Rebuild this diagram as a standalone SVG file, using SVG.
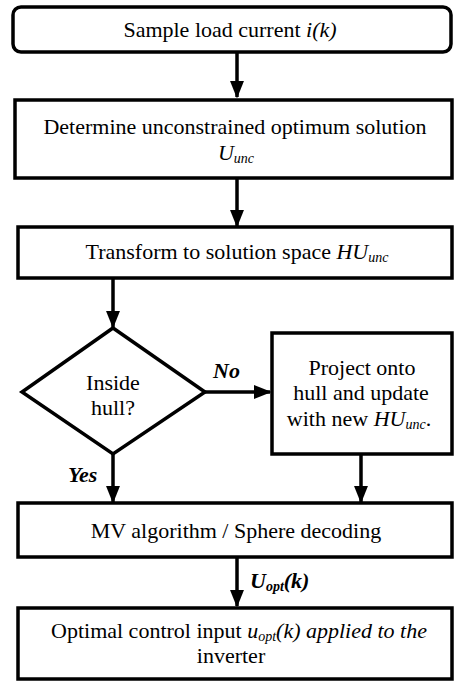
<svg xmlns="http://www.w3.org/2000/svg" width="454" height="681" viewBox="0 0 454 681">
<style>
.b{fill:#fff;stroke:#000;stroke-width:3.5}
.c{fill:none;stroke:#000;stroke-width:3.5}
text{font-size:22px;fill:#000}
.m{text-anchor:middle}
.i{font-style:italic}
.bi{font-style:italic;font-weight:bold}
.s{font-size:14px}
</style>
<defs>
<marker id="ah" markerWidth="5" markerHeight="4" refX="4.6" refY="2" orient="auto" markerUnits="strokeWidth">
<path d="M0,0 L5,2 L0,4 z" fill="#000"/>
</marker>
</defs>
<rect width="454" height="681" fill="#fff"/>
<g font-family="'Liberation Serif', 'Times New Roman', 'DejaVu Serif', serif">
<g id="connectors">
<line class="c" x1="237" y1="52" x2="237" y2="97" marker-end="url(#ah)"/>
<line class="c" x1="237" y1="178" x2="237" y2="226" marker-end="url(#ah)"/>
<line class="c" x1="113" y1="278" x2="113" y2="327" marker-end="url(#ah)"/>
<line class="c" x1="205" y1="392" x2="270" y2="392" marker-end="url(#ah)"/>
<line class="c" x1="113" y1="454" x2="113" y2="502" marker-end="url(#ah)"/>
<line class="c" x1="361" y1="455" x2="361" y2="502" marker-end="url(#ah)"/>
<line class="c" x1="237" y1="557" x2="237" y2="606" marker-end="url(#ah)"/>
<text class="bi" x="213" y="378">No</text>
<text class="bi" x="68" y="482">Yes</text>
<text class="bi" x="250" y="588">U<tspan class="s" dy="3">opt</tspan><tspan dy="-3">(k)</tspan></text>
</g>
<g id="n1">
<rect class="b" x="13" y="7" width="438" height="45" rx="8"/>
<text class="m" x="230" y="37">Sample load current <tspan class="i">i(k)</tspan></text>
</g>
<g id="n2">
<rect class="b" x="15" y="100" width="437" height="78"/>
<text class="m" x="235" y="134">Determine unconstrained optimum solution</text>
<text class="m i" x="236" y="160">U<tspan class="s" dy="3">unc</tspan></text>
</g>
<g id="n3">
<rect class="b" x="18" y="227" width="434" height="51"/>
<text class="m" x="237" y="259">Transform to solution space <tspan class="i">HU</tspan><tspan class="i s" dy="3">unc</tspan></text>
</g>
<g id="n4">
<polygon class="b" points="113,328 205,392 113,454 22,392"/>
<text class="m" x="113" y="390">Inside</text>
<text class="m" x="113" y="415">hull?</text>
</g>
<g id="n5">
<rect class="b" x="272" y="333" width="180" height="121"/>
<text class="m" x="362" y="375">Project onto</text>
<text class="m" x="361" y="400">hull and update</text>
<text class="m" x="359" y="426">with new <tspan class="i">HU</tspan><tspan class="i s" dy="3">unc</tspan><tspan dy="-3">.</tspan></text>
</g>
<g id="n6">
<rect class="b" x="18" y="503" width="434" height="54"/>
<text class="m" x="236" y="538">MV algorithm / Sphere decoding</text>
</g>
<g id="n7">
<rect class="b" x="18" y="608" width="434" height="71"/>
<text class="m" x="239" y="638">Optimal control input <tspan class="i">u</tspan><tspan class="i s" dy="3">opt</tspan><tspan class="i" dy="-3">(k) applied to the</tspan></text>
<text class="m" x="231" y="663">inverter</text>
</g>
</g>
</svg>
